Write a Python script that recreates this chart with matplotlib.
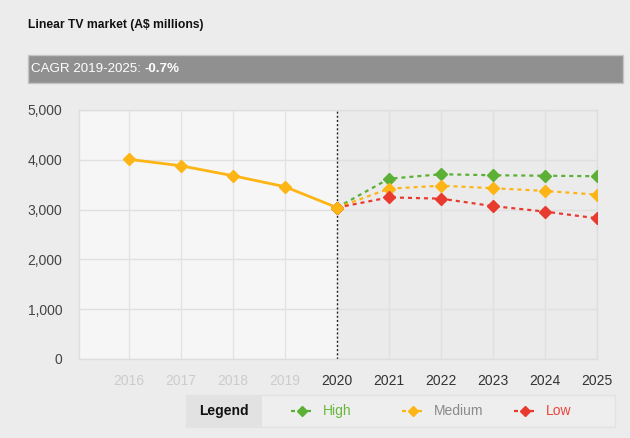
import matplotlib.pyplot as plt
from matplotlib.patches import Rectangle
from matplotlib.lines import Line2D

plt.rcParams['font.family'] = ['Liberation Sans', 'DejaVu Sans']

# data ---------------------------
years_hist = [2016, 2017, 2018, 2019, 2020]
hist = [4010, 3880, 3680, 3460, 3040]

years_fc = [2020, 2021, 2022, 2023, 2024, 2025]
high = [3040, 3620, 3710, 3690, 3680, 3670]
medium = [3040, 3420, 3480, 3430, 3375, 3300]
low = [3040, 3245, 3220, 3070, 2960, 2825]

all_years = [2016, 2017, 2018, 2019, 2020, 2021, 2022, 2023, 2024, 2025]
y_ticks = [0, 1000, 2000, 3000, 4000, 5000]

GREEN = '#5cb035'
ORANGE = '#fdb515'
RED = '#e83a2e'
BG = '#ececec'

fig = plt.figure(figsize=(6.3, 4.38), dpi=100)
fig.patch.set_facecolor(BG)

ax = fig.add_axes([79 / 630, 1 - 359 / 438, (597 - 79) / 630, (359 - 110) / 438])
ax.set_facecolor('#ebebeb')
ax.set_xlim(2015.04, 2025)
ax.set_ylim(0, 5000)

# lighter historic region
ax.axvspan(2015.04, 2020, color='#f6f6f6', zorder=0)

for y in y_ticks:
    ax.axhline(y, color='#e0e0e0', lw=1, zorder=1)
for yr in all_years:
    if yr < 2020:
        ax.axvline(yr, color='#e3e3e3', lw=1, zorder=1)
    elif yr > 2020:
        ax.axvline(yr, color='#e0e0e0', lw=1, zorder=1)

ax.axvline(2020, color='#222222', lw=1, linestyle=(0, (1.5, 1.5)), zorder=2)

for s in ax.spines.values():
    s.set_color('#dedede')
    s.set_linewidth(1)

# lines
ax.plot(years_fc, high, color=GREEN, lw=1.6, linestyle=(0, (1.8, 1.8)),
        marker='D', ms=6, zorder=3)
ax.plot(years_fc, medium, color=ORANGE, lw=1.6, linestyle=(0, (1.8, 1.8)),
        marker='D', ms=6, zorder=3)
ax.plot(years_fc, low, color=RED, lw=1.6, linestyle=(0, (1.8, 1.8)),
        marker='D', ms=6, zorder=3)
ax.plot(years_hist, hist, color=ORANGE, lw=2, marker='D', ms=6, zorder=4)

ax.set_yticks(y_ticks)
ax.set_yticklabels(['{:,}'.format(v) for v in y_ticks])
ax.set_xticks(all_years)
ax.set_xticklabels([str(y) for y in all_years])
ax.tick_params(axis='both', length=0, labelsize=10, colors='#444444')
ax.tick_params(axis='y', pad=12)
ax.tick_params(axis='x', pad=11)
for lbl, yr in zip(ax.get_xticklabels(), all_years):
    lbl.set_color('#cccccc' if yr < 2020 else '#333333')

# title + CAGR bar
fig.text(28 / 630, 1 - 25 / 438, 'Linear TV market (A$ millions)', fontsize=8.7,
         fontweight='bold', color='#111111', va='center', ha='left')

fig.patches.append(Rectangle((28 / 630, 1 - 83 / 438), (623 - 28) / 630, 28 / 438,
                             transform=fig.transFigure, facecolor='#909090',
                             edgecolor='#c4c4c4', lw=1))
t1 = fig.text(31 / 630, 1 - 69 / 438, 'CAGR 2019-2025: ', fontsize=9.6,
              color='white', va='center', ha='left')
fig.canvas.draw()
bb = t1.get_window_extent(fig.canvas.get_renderer())
fig.text(bb.x1 / 630, 1 - 69 / 438, '-0.7%', fontsize=9.6, fontweight='bold',
         color='white', va='center', ha='left')

# legend box
fig.patches.append(Rectangle((186 / 630, 1 - 427 / 438), (615 - 186) / 630, 32 / 438,
                             transform=fig.transFigure, facecolor='#eeeeee',
                             edgecolor='#e2e2e2', lw=1))
fig.patches.append(Rectangle((186 / 630, 1 - 427 / 438), (262 - 186) / 630, 32 / 438,
                             transform=fig.transFigure, facecolor='#e2e2e2',
                             edgecolor='none'))
ly = 1 - 411 / 438
fig.text(224 / 630, ly, 'Legend', fontsize=10, fontweight='bold', color='#111111',
         ha='center', va='center')

items = [('High', GREEN, '#68b83e', 291), ('Medium', ORANGE, '#8a8a8a', 402),
         ('Low', RED, '#e8453c', 514)]
for name, col, tcol, x0 in items:
    fig.lines.append(Line2D([x0 / 630, (x0 + 22) / 630], [ly, ly], transform=fig.transFigure,
                            color=col, lw=1.6, linestyle=(0, (1.8, 1.8))))
    fig.lines.append(Line2D([(x0 + 11) / 630], [ly], transform=fig.transFigure,
                            color=col, marker='D', ms=5.5))
    fig.text((x0 + 32) / 630, ly, name, fontsize=10, color=tcol, ha='left', va='center')

plt.savefig('out.png', dpi=100, facecolor=BG)
